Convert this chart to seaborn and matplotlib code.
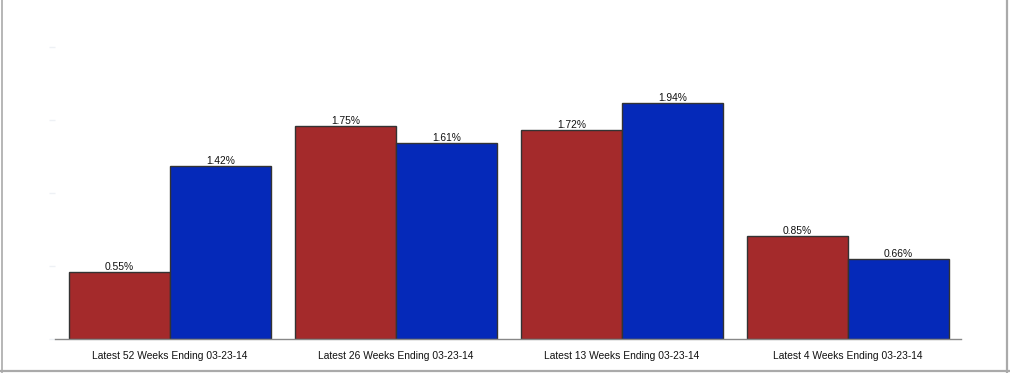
import pandas as pd
import seaborn as sns
import matplotlib.pyplot as plt
from matplotlib.lines import Line2D

# chart values
periods = ["Latest 52 Weeks Ending 03-23-14", "Latest 26 Weeks Ending 03-23-14",
           "Latest 13 Weeks Ending 03-23-14", "Latest 4 Weeks Ending 03-23-14"]
series_names = ["Product", "Category"]
product_pct = [0.55, 1.75, 1.72, 0.85]
category_pct = [1.42, 1.61, 1.94, 0.66]
y_ticks = [0, 0.6, 1.2, 1.8, 2.4]

df = pd.DataFrame({
    "Period": periods * 2,
    "Series": [series_names[0]] * 4 + [series_names[1]] * 4,
    "Pct": product_pct + category_pct,
})

sns.set_style("white")
plt.rcParams['font.family'] = ['Liberation Sans', 'DejaVu Sans']

fig = plt.figure(figsize=(10.10, 3.73), dpi=100)
ax = fig.add_axes([0.0545, 0.091, 0.897, 0.815])

sns.barplot(data=df, x="Period", y="Pct", hue="Series",
            palette=["#A42A2B", "#0529B9"], width=0.892,
            edgecolor="#333333", linewidth=1, saturation=1,
            legend=False, ax=ax)

for cont in ax.containers:
    ax.bar_label(cont, labels=[f"{v:.2f}%" for v in cont.datavalues],
                 padding=0, fontsize=7.4, color="#111111")

ax.set_xlim(-0.508, 3.5)
ax.set_ylim(0, 2.5)
ax.set_yticks(y_ticks)
ax.set_yticklabels([""] * len(y_ticks))
ax.tick_params(axis="y", left=True, length=4, width=1, color="#eef1f5")
ax.tick_params(axis="x", bottom=False, labelsize=7.4, pad=5, labelcolor="#111111")
ax.set_xlabel("")
ax.set_ylabel("")

for side in ["top", "right", "left"]:
    ax.spines[side].set_visible(False)
ax.spines["bottom"].set_color("#888888")
ax.spines["bottom"].set_linewidth(1)

# outer frame (left, right, bottom)
fig.add_artist(Line2D([0.0015, 0.0015], [0.0, 1.0], color="#aaaaaa", lw=1.2, transform=fig.transFigure))
fig.add_artist(Line2D([0.9975, 0.9975], [0.0, 1.0], color="#aaaaaa", lw=1.6, transform=fig.transFigure))
fig.add_artist(Line2D([0.0, 1.0], [0.005, 0.005], color="#aaaaaa", lw=1.6, transform=fig.transFigure))

plt.savefig("out.png", dpi=100)
